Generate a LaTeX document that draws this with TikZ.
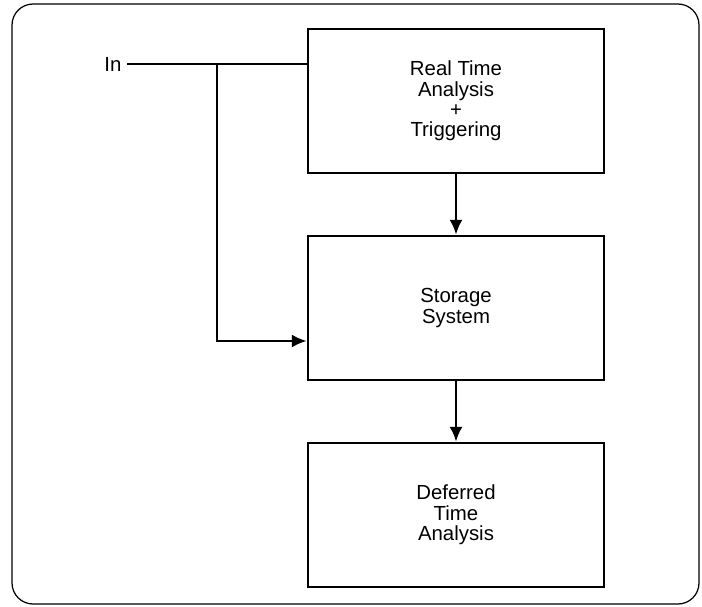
\documentclass[tikz,border=0pt]{standalone}
\usepackage{fontspec}
\setmainfont{Liberation Sans}
\usetikzlibrary{positioning,arrows.meta}

\begin{document}
\begin{tikzpicture}[x=0.02cm,y=-0.02cm,
      block/.style={draw,line width=1.5pt,minimum width=5.92cm,minimum height=2.88cm,
      align=center,inner sep=0pt,font=\fontsize{11.6}{11.6}\selectfont},
      lbl/.style={font=\fontsize{11.6}{11.6}\selectfont,inner sep=3pt},
      wire/.style={line width=1.5pt},
      arrow/.style={-{Latex[length=8.5pt,width=7.5pt]},line width=1.5pt}
    ]
    \useasboundingbox (0,0) rectangle (702,606);
    \draw[line width=0.7pt,rounded corners=12pt] (12,4) rectangle (699,604);
    \node[block] at (456,101) (rta) {Real Time\\Analysis\\+\\Triggering};
    \node[block] at (456,308) (store) {Storage\\System};
    \node[block] at (456,515) (dta) {Deferred\\Time\\Analysis};
    \node[lbl,anchor=east] at (127,64) (in) {In};
    \coordinate (split) at (217,64);
    \draw[wire] (in.east) -- (rta.west |- in.east);
    \draw[arrow] (split) |- ([yshift=-0.66cm]store.west);
    \draw[arrow] (rta) -- (store);
    \draw[arrow] (store) -- (dta);
  \end{tikzpicture}
\end{document}
